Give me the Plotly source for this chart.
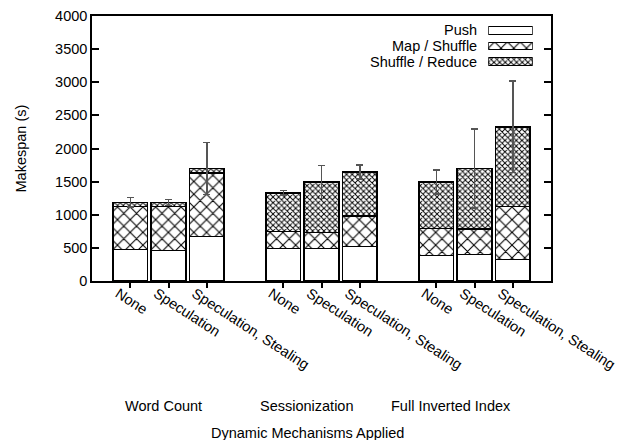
import plotly.graph_objects as go

# ---- data ----
positions = [1, 2, 3, 5, 6, 7, 9, 10, 11]
mechanisms = ["None", "Speculation", "Speculation, Stealing"] * 3
workloads = ["Word Count", "Sessionization", "Full Inverted Index"]
push = [477, 462, 673, 492, 492, 523, 382, 397, 327]
map_shuffle = [649, 659, 960, 252, 242, 457, 407, 387, 794]
shuffle_reduce = [60, 65, 65, 588, 763, 668, 708, 914, 1206]
errors = [72, 45, 390, 35, 250, 105, 180, 595, 690]
series_names = ["Push", "Map / Shuffle", "Shuffle / Reduce"]
y_ticks = [0, 500, 1000, 1500, 2000, 2500, 3000, 3500, 4000]

FONT = "Liberation Sans, Arial, sans-serif"
FS = 14.5

W, H = 636, 440
L, R = 92, 551
T, B = 16, 281
pw, ph = R - L, B - T

def px_x(px):
    return (px - L) / pw

def px_y(py):
    return (B - py) / ph

patterns = [
    dict(shape="", fgcolor="black", bgcolor="white"),
    dict(shape="x", size=9, solidity=0.22, fgcolor="black", bgcolor="white", fillmode="replace"),
    dict(shape="x", size=4, solidity=0.42, fgcolor="black", bgcolor="white", fillmode="replace"),
]

fig = go.Figure()
for i, (name, vals) in enumerate(zip(series_names, [push, map_shuffle, shuffle_reduce])):
    kw = {}
    if i == 2:
        kw["error_y"] = dict(type="data", array=errors, visible=True,
                             color="#555555", thickness=1.5, width=3.5)
    fig.add_trace(go.Bar(
        x=positions, y=vals, name=name, width=0.91,
        marker=dict(color="white", line=dict(color="black", width=1.5),
                    pattern=patterns[i]),
        showlegend=False, **kw))

# custom legend swatches (text left, swatch right as in reference)
fig.add_trace(go.Bar(
    x=[1, 1, 1], y=[0, 1, 2], orientation="h", width=0.5,
    xaxis="x2", yaxis="y2", showlegend=False, hoverinfo="skip",
    marker=dict(color="white", line=dict(color="black", width=1),
                pattern=dict(shape=["", "x", "x"], size=[8, 9, 4],
                             solidity=[0.1, 0.22, 0.42], fgcolor="black",
                             bgcolor="white", fillmode="replace"))))

fig.update_layout(
    width=W, height=H,
    margin=dict(l=L, r=W - R, t=T, b=H - B, pad=0, autoexpand=False),
    paper_bgcolor="white", plot_bgcolor="white",
    barmode="stack",
    font=dict(family=FONT, size=FS, color="black"),
    xaxis=dict(range=[0, 12], tickvals=positions, ticktext=mechanisms,
               tickangle=33, ticks="outside", ticklen=5, tickwidth=1.5,
               tickcolor="black", showline=True, linecolor="black",
               linewidth=1.5, mirror=True, showgrid=False, zeroline=False,
               ticklabelshift=-12, ticklabelstandoff=-8, automargin=False,
               tickfont=dict(family=FONT, size=FS)),
    yaxis=dict(range=[0, 4000], tickvals=y_ticks, ticks="inside", ticklen=7,
               tickwidth=1.5, tickcolor="black", showline=True,
               linecolor="black", linewidth=1.5, mirror="ticks",
               showgrid=False, zeroline=False, automargin=False,
               tickfont=dict(family=FONT, size=FS)),
    xaxis2=dict(domain=[px_x(488.3), px_x(532.7)], range=[0, 1], anchor="y2",
                visible=False, fixedrange=True),
    yaxis2=dict(domain=[px_y(69.45), px_y(22.75)], range=[2.5, -0.5],
                anchor="x2", visible=False, fixedrange=True),
)

ann = []
for name, py in zip(series_names, [30.5, 46, 61.7]):
    ann.append(dict(text=name, x=px_x(479), y=px_y(py), xref="paper", yref="paper",
                    xanchor="right", yanchor="middle", showarrow=False,
                    font=dict(family=FONT, size=FS)))
for wl, px in zip(workloads, [163.3, 306.7, 450.7]):
    ann.append(dict(text=wl, x=px_x(px), y=px_y(406), xref="paper", yref="paper",
                    xanchor="center", yanchor="middle", showarrow=False,
                    font=dict(family=FONT, size=FS)))
ann.append(dict(text="Dynamic Mechanisms Applied", x=px_x(307.5), y=px_y(433),
                xref="paper", yref="paper", xanchor="center", yanchor="middle",
                showarrow=False, font=dict(family=FONT, size=FS)))
ann.append(dict(text="Makespan (s)", x=px_x(20), y=0.5, xref="paper", yref="paper",
                xanchor="center", yanchor="middle", textangle=-90, showarrow=False,
                font=dict(family=FONT, size=FS)))
fig.update_layout(annotations=ann)

fig.write_html("out.html",
               config={"displayModeBar": False},
               post_script="document.body.style.margin='0px';document.body.style.padding='0px';")
